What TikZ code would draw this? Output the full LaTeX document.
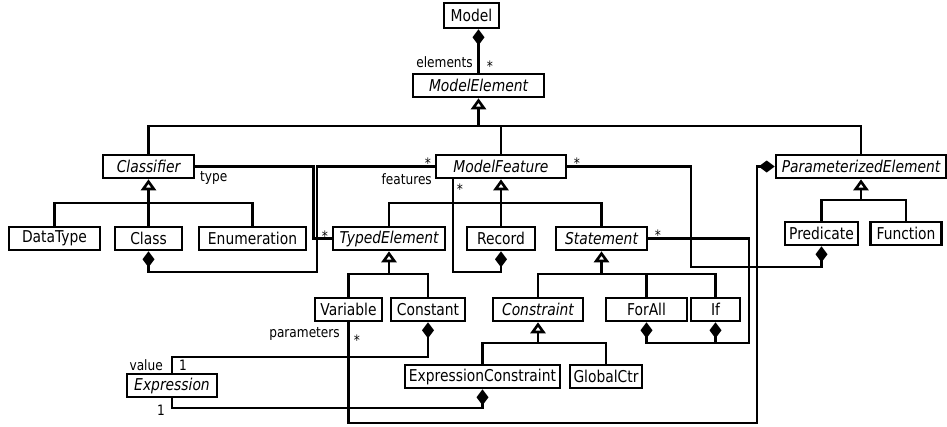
\documentclass[tikz,border=0pt]{standalone}
\usepackage{fontspec}
\setmainfont{DejaVu Sans}[FakeStretch=0.85]
\usetikzlibrary{arrows.meta}

\tikzset{
  cls/.style={draw, line width=2.6pt, minimum height=23pt, inner xsep=2pt, inner ysep=0pt, font=\fontsize{16.3}{18}\selectfont},
  abstract/.style={cls, font=\fontsize{16.3}{18}\selectfont\itshape},
  lbl/.style={font=\fontsize{14.3}{16}\selectfont, inner sep=1pt},
  line/.style={line width=2.6pt},
  inh/.style={line, {Triangle[open,length=11pt,width=15pt]}-},
  comp/.style={line, {Diamond[length=16pt,width=12pt]}-},
}

\begin{document}
\begin{tikzpicture}[x=1pt,y=-1pt]
\useasboundingbox (0,0) rectangle (947,426);

% classes
\node[cls, minimum width=55pt, minimum height=25pt] (model) at (471.5,15.5) {Model};
\node[abstract, minimum width=131pt] (modelelement) at (478.5,85.5) {ModelElement};
\node[abstract, minimum width=91pt] (classifier) at (148.5,166.5) {Classifier};
\node[abstract, minimum width=130pt] (modelfeature) at (501,166.5) {ModelFeature};
\node[abstract, minimum width=170pt] (paramelem) at (861,166.5) {ParameterizedElement};
\node[cls, minimum width=91pt] (datatype) at (54.5,238.5) {DataType};
\node[cls, minimum width=67pt] (class) at (148.5,238.5) {Class};
\node[cls, minimum width=107pt] (enumeration) at (252.5,238.5) {Enumeration};
\node[abstract, minimum width=112pt] (typedelement) at (389,238.5) {TypedElement};
\node[cls, minimum width=68pt] (record) at (501,238.5) {Record};
\node[abstract, minimum width=91pt] (statement) at (601.5,238.5) {Statement};
\node[cls, minimum width=73pt] (predicate) at (821.5,233.5) {Predicate};
\node[cls, minimum width=71pt] (function) at (906,233.5) {Function};
\node[cls, minimum width=67pt] (variable) at (348.5,309.5) {Variable};
\node[cls, minimum width=74pt] (constant) at (428,309.5) {Constant};
\node[abstract, minimum width=90pt] (constraint) at (538,309.5) {Constraint};
\node[cls, minimum width=81pt] (forall) at (646.5,309.5) {ForAll};
\node[cls, minimum width=49pt] (if) at (715.5,309.5) {If};
\node[abstract, minimum width=90pt] (expression) at (172,385.5) {Expression};
\node[cls, minimum width=155pt] (exprconstraint) at (482.5,376.5) {ExpressionConstraint};
\node[cls, minimum width=72pt] (globalctr) at (606,376.5) {GlobalCtr};

% generalisations
\draw[inh] (modelelement.south) -- (modelelement.south |- 0,126);
\draw[line] (classifier.north) |- (paramelem.north |- 0,126) -- (paramelem.north);
\draw[line] (modelfeature.north) -- (modelfeature.north |- 0,126);

\draw[inh] (classifier.south) -- (classifier.south |- 0,203);
\draw[line] (datatype.north) |- (enumeration.north |- 0,203) -- (enumeration.north);
\draw[line] (class.north) -- (class.north |- 0,203);

\draw[inh] (modelfeature.south) -- (record.north);
\draw[line] (typedelement.north) |- (statement.north |- 0,203) -- (statement.north);

\draw[inh] (paramelem.south) -- (paramelem.south |- 0,200);
\draw[line] (predicate.north) |- (function.north |- 0,200) -- (function.north);

\draw[inh] (typedelement.south) -- (typedelement.south |- 0,274);
\draw[line] (variable.north) |- (constant.north |- 0,274) -- (constant.north);

\draw[inh] (statement.south) -- (statement.south |- 0,274);
\draw[line] (constraint.north) |- (if.north |- 0,274) -- (if.north);
\draw[line] (forall.north) -- (forall.north |- 0,274);

\draw[inh] (constraint.south) -- (constraint.south |- 0,343);
\draw[line] (exprconstraint.north) |- (globalctr.north |- 0,343) -- (globalctr.north);

% associations
\draw[comp] (model.south -| modelelement.north) -- (modelelement.north);
\node[lbl, anchor=east] (elements) at (474,62) {elements};
\node[lbl] (elemmult) at (490,66) {*};

\draw[line] (classifier.east) -- ++(118,0) |- (typedelement.west);
\node[lbl, anchor=west] (type) at (199,178) {type};
\node[lbl] (typemult) at (325,236) {*};

\draw[comp] (class.south) |- (317,272) |- (modelfeature.west);
\node[lbl, anchor=east] (features) at (433,179) {features};
\node[lbl] (featmult) at (428,163) {*};

\draw[comp] (record.south) |- (453,272) -- (modelfeature.south -| 453,0);
\node[lbl] (recmult) at (460,189) {*};

\draw[comp] (predicate.south) |- (691,267) |- (modelfeature.east);
\node[lbl] (predmult) at (577,163) {*};

\draw[comp] (forall.south) |- (749,343) |- (statement.east);
\draw[comp] (if.south) -- (if.south |- 0,343);
\node[lbl] (stmtmult) at (658,235) {*};

\draw[comp] (paramelem.west) -| (757,423) -| (variable.south);
\node[lbl, anchor=east] (parameters) at (341,334) {parameters};
\node[lbl] (parammult) at (357,340) {*};

\draw[comp] (constant.south) |- (expression.north |- 0,357) -- (expression.north);
\node[lbl, anchor=east] (value) at (164,365) {value};
\node[lbl] (valuemult) at (183,365) {1};

\draw[comp] (exprconstraint.south) |- (expression.south |- 0,408) -- (expression.south);
\node[lbl] (exprmult) at (161,410) {1};
\end{tikzpicture}
\end{document}
